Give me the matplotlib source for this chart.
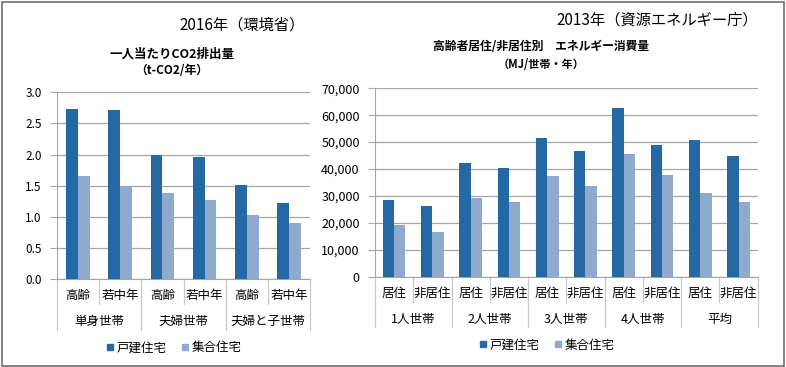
import matplotlib
matplotlib.use("Agg")
import matplotlib.pyplot as plt
from matplotlib.lines import Line2D
from matplotlib.patches import Rectangle
import matplotlib.transforms as mtransforms

plt.rcParams['font.family'] = ['Noto Sans CJK JP', 'DejaVu Sans']

# ---- data ----
left_inner = ["高齢", "若中年", "高齢", "若中年", "高齢", "若中年"]
left_groups = ["単身世帯", "夫婦世帯", "夫婦と子世帯"]
left_detached = [2.73, 2.71, 2.00, 1.96, 1.51, 1.22]
left_apartment = [1.66, 1.48, 1.39, 1.28, 1.03, 0.90]
left_yticks = [0.0, 0.5, 1.0, 1.5, 2.0, 2.5, 3.0]

right_inner = ["居住", "非居住"] * 5
right_groups = ["1人世帯", "2人世帯", "3人世帯", "4人世帯", "平均"]
right_detached = [28500, 26400, 42100, 40400, 51400, 46600, 62600, 48900, 50800, 44800]
right_apartment = [19200, 16500, 29400, 27800, 37300, 33600, 45500, 37700, 31000, 27900]
right_yticks = [0, 10000, 20000, 30000, 40000, 50000, 60000, 70000]

series_names = ["戸建住宅", "集合住宅"]
DARK = "#2469A3"
LIGHT = "#8FAACF"
GRID = "#a6a6a6"

W, H = 786, 367
fig = plt.figure(figsize=(W / 100, H / 100), dpi=100)


def fy(px):
    return 1 - px / H


def fx(px):
    return px / W


def make_panel(rect_px, inner, groups, d1, d2, yticks, ymax, fmt, bw,
               inner_y, outer_y, inner_bot, outer_bot, tick_fs):
    x0, y0, x1, y1 = rect_px
    ax = fig.add_axes([fx(x0), fy(y1), fx(x1) - fx(x0), (y1 - y0) / H])
    n = len(inner)
    xs = list(range(n))
    ax.bar([x - bw / 2 for x in xs], d1, width=bw, color=DARK, zorder=3)
    ax.bar([x + bw / 2 for x in xs], d2, width=bw, color=LIGHT, zorder=3)
    ax.set_xlim(-0.5, n - 0.5)
    ax.set_ylim(0, ymax)
    ax.set_yticks(yticks)
    ax.set_yticklabels([fmt(v) for v in yticks], fontsize=tick_fs)
    ax.set_xticks([])
    ax.grid(axis='y', color=GRID, lw=0.9, zorder=0)
    for s in ['top', 'right']:
        ax.spines[s].set_visible(False)
    ax.spines['left'].set_color(GRID)
    ax.spines['bottom'].set_color(GRID)
    ax.tick_params(axis='y', length=5, color=GRID, pad=6)
    tr = mtransforms.blended_transform_factory(ax.transData, fig.transFigure)
    for i, lab in enumerate(inner):
        ax.text(i, fy(inner_y), lab, transform=tr, ha='center', va='center',
                fontsize=9)
    per = n // len(groups)
    for k in range(n + 1):
        xb = k - 0.5
        bot = outer_bot if k % per == 0 else inner_bot
        ax.add_line(Line2D([xb, xb], [fy(y1), fy(bot)], transform=tr,
                           color="#c8c8c8", lw=0.9, clip_on=False))
    for g, lab in enumerate(groups):
        ax.text(g * per + (per - 1) / 2, fy(outer_y), lab, transform=tr,
                ha='center', va='center', fontsize=9)
    return ax


make_panel((57, 92.3, 310, 279.3), left_inner, left_groups, left_detached,
           left_apartment, left_yticks, 3.0, lambda v: f"{v:.1f}", 0.28,
           295, 321, 304, 330, 8.5)
make_panel((375, 88.3, 757.7, 276.7), right_inner, right_groups, right_detached,
           right_apartment, right_yticks, 70000, lambda v: f"{v:,.0f}", 0.295,
           293, 319, 302, 327, 9)

# titles
fig.text(fx(242), fy(25), "2016年（環境省）", ha='center', va='center', fontsize=11)
fig.text(fx(172), fy(54), "一人当たりCO2排出量", ha='center', va='center',
         fontsize=9, fontweight='bold')
fig.text(fx(172), fy(70), "（t-CO2/年）", ha='center', va='center',
         fontsize=8.5, fontweight='bold')
fig.text(fx(657), fy(20), "2013年（資源エネルギー庁）", ha='center', va='center',
         fontsize=11)
fig.text(fx(541), fy(47), "高齢者居住/非居住別　エネルギー消費量", ha='center',
         va='center', fontsize=8.5, fontweight='bold')
fig.text(fx(541), fy(64), "（MJ/世帯・年）", ha='center', va='center',
         fontsize=8, fontweight='bold')

# legends
handles = [Line2D([], [], marker='s', ls='none', color=c, markersize=5)
           for c in (DARK, LIGHT)]
for cx, cy in ((174, 348), (547, 345)):
    fig.legend(handles, series_names, loc='center', bbox_to_anchor=(fx(cx), fy(cy)),
               ncol=2, frameon=False, handlelength=0.6, handletextpad=0.2,
               columnspacing=1.2, borderpad=0, prop={'size': 9})

# outer border
fig.add_artist(Rectangle((fx(1.5), fy(365.5)), fx(782), 364 / H,
                         transform=fig.transFigure, fill=False,
                         edgecolor="#6e6e6e", lw=1.2))

fig.savefig("out.png", dpi=100)
